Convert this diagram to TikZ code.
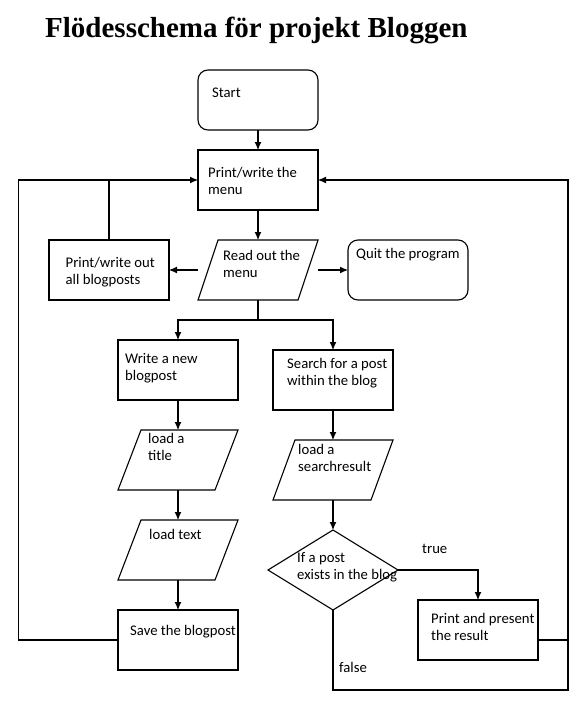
\documentclass[tikz,border=0pt]{standalone}
\usepackage{fontspec}
\setmainfont{Carlito}
\newfontfamily\titlefont{Liberation Serif}
\usetikzlibrary{arrows.meta}
\newcommand\tl[1]{\begin{tabular}[t]{@{}l@{}}#1\end{tabular}}
\newcommand\para[2][23]{\draw[ln] ([xshift=#1pt]#2.north west) -- (#2.north east) -- ([xshift=-#1pt]#2.south east) -- (#2.south west) -- cycle;}
\begin{document}
\begin{tikzpicture}[x=1pt,y=-1pt,
  ln/.style={line width=1.1pt},
  shp/.style={minimum width=120pt, minimum height=60pt, inner sep=0pt, outer sep=0pt, anchor=north west},
  box/.style={shp, draw, ln},
  rbox/.style={shp, draw, ln, rounded corners=10pt},
  iobox/.style={shp},
  txt/.style={anchor=base west, inner sep=0pt, font=\fontsize{14.7}{17.8}\selectfont},
  arr/.style={ln, -{Latex[length=8pt,width=7pt]}},
  con/.style={ln}]
\useasboundingbox (0,0) rectangle (588,707);
\node[anchor=base west, inner sep=0pt, font=\titlefont\bfseries\fontsize{29}{32}\selectfont] (ttl) at (45,37) {Flödesschema för projekt Bloggen};

% shapes
\node[rbox] (start) at (198,70) {};
\node[box] (menu) at (198,150) {};
\node[iobox] (read) at (198,240) {};
\para[20]{read}
\node[box] (printall) at (49,240) {};
\node[rbox] (quit) at (348,240) {};
\node[box] (write) at (118,340) {};
\node[box] (search) at (273,350) {};
\node[iobox] (ltitle) at (118,430) {};
\para{ltitle}
\node[iobox] (ltext) at (118,520) {};
\para{ltext}
\node[box] (save) at (118,610) {};
\node[iobox] (sres) at (273,440) {};
\para[22]{sres}
\node[shp, minimum width=130pt, minimum height=80pt] (dec) at (268,530) {};
\draw[ln] (dec.north) -- (dec.east) -- (dec.south) -- (dec.west) -- cycle;
\node[box] (pres) at (418,600) {};

% texts
\node[txt] (tstart) at (212,97) {Start};
\node[txt] (tmenu) at (208,177) {\tl{Print/write the\\menu}};
\node[txt] (tprintall) at (65.5,267) {\tl{Print/write out\\all blogposts}};
\node[txt] (tread) at (223,260) {\tl{Read out the\\menu}};
\node[txt] (tquit) at (356,258) {Quit the program};
\node[txt] (twrite) at (125,363) {\tl{Write a new\\blogpost}};
\node[txt] (tsearch) at (287,368) {\tl{Search for a post\\within the blog}};
\node[txt] (tltitle) at (148,443) {\tl{load a\\title}};
\node[txt] (tsres) at (298,454) {\tl{load a\\searchresult}};
\node[txt] (tltext) at (149,539) {load text};
\node[txt] (tdec) at (297,562) {\tl{If a post\\exists in the blog}};
\node[txt] (ttrue) at (422,553) {true};
\node[txt] (tpres) at (431,623) {\tl{Print and present\\the result}};
\node[txt] (tsave) at (130,635) {Save the blogpost};
\node[txt] (tfalse) at (339,672) {false};

% connectors
\draw[arr] (start.south) -- (menu.north);
\draw[arr] (menu.south) -- (read.north);
\draw[arr] (read.west) -- (printall.east);
\draw[arr] (read.east) -- (quit.west);
\draw[arr] (read.south) -- ++(0,20) -| (write.north);
\draw[arr] (read.south) -- ++(0,20) -| (search.north);
\draw[arr] (write.south) -- (ltitle.north);
\draw[arr] (ltitle.south) -- (ltext.north);
\draw[arr] (ltext.south) -- (save.north);
\draw[arr] (search.south) -- (sres.north);
\draw[arr] (sres.south) -- (dec.north);
\draw[arr] (dec.east) -| (pres.north);
\draw[con] (printall.north) -- (printall.north |- menu.west);
\draw[arr] (save.west) -- ++(-99.3,0) |- (menu.west);
\draw[arr] ([yshift=-10pt]pres.east) -- ++(30,0) |- (menu.east);
\draw[con] (dec.south) -- ++(0,80) -| ([xshift=30pt,yshift=-10pt]pres.east);
\end{tikzpicture}
\end{document}
